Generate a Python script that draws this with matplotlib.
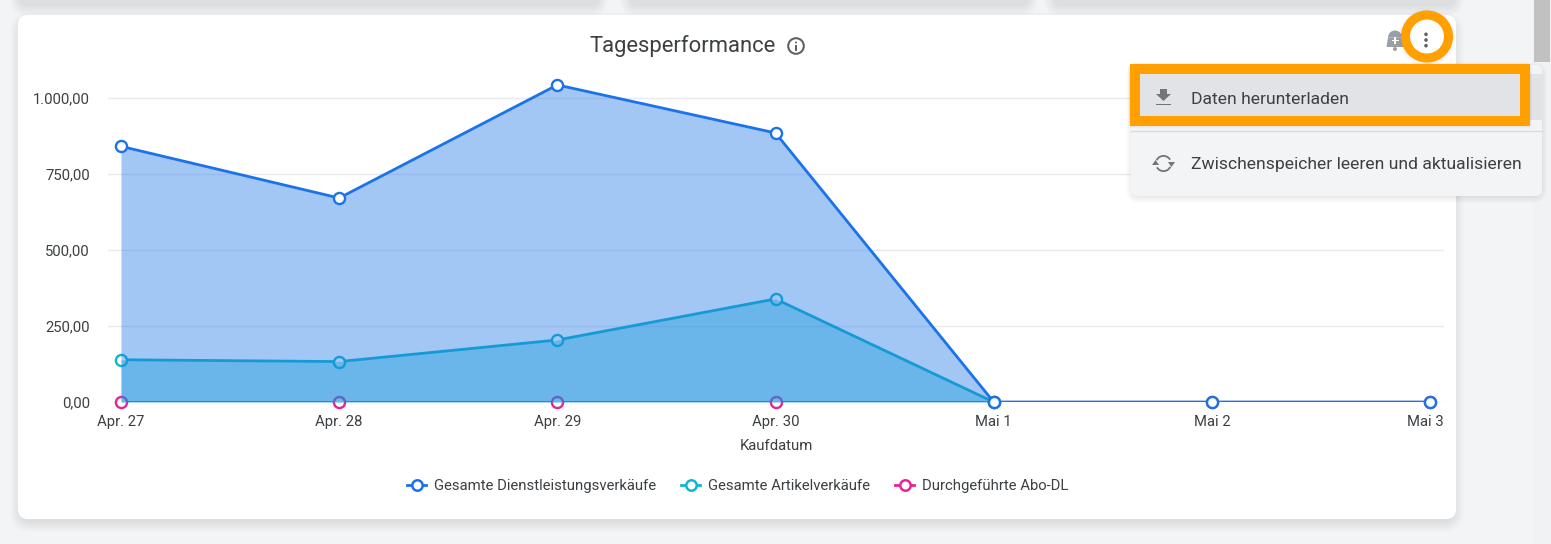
#!/usr/bin/env python3
import numpy as np
import matplotlib
matplotlib.use("Agg")
import matplotlib.pyplot as plt
from matplotlib.lines import Line2D
from matplotlib.patches import Circle, FancyBboxPatch, Polygon, Rectangle, Wedge
from matplotlib.ticker import FuncFormatter
from matplotlib.transforms import ScaledTranslation

W, H = 1551, 544
plt.rcParams["font.family"] = ["Roboto", "DejaVu Sans"]

# Chart data
dates = ["Apr. 27", "Apr. 28", "Apr. 29", "Apr. 30", "Mai 1", "Mai 2", "Mai 3"]
services = [841, 671, 1043, 885, 0, 0, 0]
articles = [139, 133, 204, 339, 0, 0, 0]
abo = [0, 0, 0, 0, 0, 0, 0]
y_ticks = [0, 250, 500, 750, 1000]

BLUE = "#1a73e8"
TEAL = "#12b5cb"
PINK = "#e52592"
ORANGE = "#ffa000"
TEXT = "#3c4043"
GREY = "#70757a"


def de_number(v, pos=None):
    return f"{v:,.2f}".replace(",", "X").replace(".", ",").replace("X", ".")


def rounded(ax, x0, y0, x1, y1, r, **kw):
    box = FancyBboxPatch((x0 + r, y0 + r), x1 - x0 - 2 * r, y1 - y0 - 2 * r,
                         boxstyle=f"round,pad={r},rounding_size={r}", **kw)
    ax.add_patch(box)
    return box


def shadow(ax, x0, y0, x1, y1, r, size, zorder, alpha=0.006, shift=5):
    # stack of faint boxes, shifted down a bit
    for i in range(size, -3, -1):
        rounded(ax, x0 - i, y0 - i + shift, x1 + i, y1 + i + shift, r + 3 + i,
                fc="black", ec="none", alpha=alpha, zorder=zorder)


def series(ax, xs, ys, color, lw, zorder):
    # line stays clipped at the axes, markers hang over the edge
    ax.plot(xs, ys, color=color, lw=lw, zorder=zorder)
    ax.plot(xs, ys, ls="none", marker="o", ms=8, mew=1.7, mec=color, mfc="white",
            clip_on=False, zorder=zorder)


fig = plt.figure(figsize=(W / 100, H / 100), dpi=100, facecolor="#f3f4f6")

# Page background in pixel coordinates
bg = fig.add_axes([0, 0, 1, 1], zorder=0)
bg.set_xlim(0, W)
bg.set_ylim(H, 0)
bg.axis("off")

# Cards above the chart, cut off by the screenshot
for x0, x1 in [(18, 600), (628, 1030), (1052, 1456)]:
    shadow(bg, x0, -20, x1, 3, 6, 8, 1)

shadow(bg, 18, 15, 1456, 519, 10, 8, 1)
rounded(bg, 18, 15, 1456, 519, 10, fc="white", ec="none", zorder=2)

# Scrollbar
bg.add_patch(Rectangle((1533, 0), 18, H, fc="#f1f2f4", ec="none", zorder=2))
bg.add_patch(Rectangle((1534, 0), 16, 62, fc="#c1c1c1", ec="none", zorder=3))

bg.text(590, 46, "Tagesperformance", fontsize=15.8, color=TEXT, va="center", ha="left", zorder=3)

# Info icon
bg.add_patch(Circle((796, 46), 7.8, fc="none", ec="#5f6368", lw=1.5, zorder=3))
bg.add_patch(Circle((796, 42.5), 1.0, fc="#5f6368", ec="none", zorder=3))
bg.add_patch(Rectangle((795.1, 45), 1.8, 5.5, fc="#5f6368", ec="none", zorder=3))

# Chart axes, placed so that gridlines span x 108..1444 and y=0 sits at 402
ax_left, ax_right, ax_bottom, ax_top = 108, 1444, 402, 68
ax = fig.add_axes([ax_left / W, 1 - ax_bottom / H, (ax_right - ax_left) / W, (ax_bottom - ax_top) / H],
                  zorder=1)
ax.patch.set_alpha(0)
x = np.arange(len(dates))
step = 218.17
ax.set_xlim((ax_left - 121) / step, (ax_right - 121) / step)
ax.set_ylim(0, (ax_bottom - ax_top) / 0.304)

series(ax, x, abo, PINK, 2, 3)
series(ax, x[:5], articles[:5], TEAL, 2, 3)
ax.fill_between(x[:5], 0, articles[:5], color=TEAL, alpha=0.4, lw=0, zorder=4)
ax.fill_between(x[:5], 0, services[:5], color=BLUE, alpha=0.4, lw=0, zorder=4)
series(ax, x, services, BLUE, 2, 5)

ax.set_xticks(x, dates)
ax.set_yticks(y_ticks)
ax.yaxis.set_major_formatter(FuncFormatter(de_number))
ax.tick_params(axis="both", length=0, labelsize=10.7, labelcolor=TEXT)
ax.tick_params(axis="x", pad=9.2)
ax.tick_params(axis="y", pad=13)
ax.grid(axis="y", color="#e8eaed", lw=1)
ax.set_axisbelow(True)
for s in ax.spines.values():
    s.set_visible(False)
ax.set_xlabel("Kaufdatum", fontsize=10.7, color=TEXT, labelpad=7.2)

# Last label is pushed inside the chart area
last = ax.get_xticklabels()[-1]
last.set_transform(last.get_transform() + ScaledTranslation(-3 / 72, 0, fig.dpi_scale_trans))

handles = [Line2D([], [], color=c, lw=2, marker="o", ms=7.5, mew=1.8, mfc="white") for c in (BLUE, TEAL, PINK)]
ax.legend(handles, ["Gesamte Dienstleistungsverkäufe", "Gesamte Artikelverkäufe", "Durchgeführte Abo-DL"],
          ncol=3, loc="center", bbox_to_anchor=(737.5 / W, 1 - 486 / H), bbox_transform=fig.transFigure,
          frameon=False, fontsize=10.7, labelcolor=TEXT, handlelength=1.32, handletextpad=0.5,
          columnspacing=1.67, borderpad=0)

# Overflow menu and highlights on top of everything
top = fig.add_axes([0, 0, 1, 1], zorder=3)
top.set_xlim(0, W)
top.set_ylim(H, 0)
top.axis("off")
top.patch.set_alpha(0)

shadow(top, 1131, 65, 1542, 196, 6, 5, 1, alpha=0.012, shift=2)
rounded(top, 1131, 65, 1542, 196, 6, fc="#f3f4f6", ec="none", zorder=2)
top.add_patch(Rectangle((1140, 74), 402, 46, fc="#e2e3e7", ec="none", zorder=3))
top.add_line(Line2D([1131, 1542], [131, 131], color="#dadce0", lw=1, zorder=3))

# Orange frame around the menu entry, with a small drop shadow
shadow(top, 1130, 64, 1530, 125, 0, 2, 3, alpha=0.03, shift=1)
top.add_patch(Rectangle((1140, 74), 380, 42, fc="#e2e3e7", ec="none", zorder=3))
top.add_patch(Rectangle((1135, 69), 390, 52, fc="none", ec=ORANGE, lw=7.2, joinstyle="miter", zorder=4))

top.text(1191, 99, "Daten herunterladen", fontsize=12.6, color=TEXT, va="center", ha="left", zorder=5)
top.text(1191, 164.5, "Zwischenspeicher leeren und aktualisieren", fontsize=12.6, color=TEXT,
         va="center", ha="left", zorder=5)

# Download icon
top.add_patch(Polygon([(1160, 89), (1167, 89), (1167, 94), (1171, 94), (1163.5, 101), (1156, 94), (1160, 94)],
                      fc=GREY, ec="none", zorder=5))
top.add_patch(Rectangle((1156, 103.5), 15, 1.6, fc=GREY, ec="none", zorder=5))

# Refresh icon
top.add_patch(Wedge((1163.5, 163.5), 8.5, 205, 330, width=1.8, fc=GREY, ec="none", zorder=5))
top.add_patch(Wedge((1163.5, 163.5), 8.5, 25, 150, width=1.8, fc=GREY, ec="none", zorder=5))
top.add_patch(Polygon([(1168, 162), (1175, 162), (1171.5, 167)], fc=GREY, ec="none", zorder=5))
top.add_patch(Polygon([(1152, 165), (1159, 165), (1155.5, 160)], fc=GREY, ec="none", zorder=5))

# Bell icon (y axis is flipped here, so the dome is 180..360)
top.add_patch(Wedge((1395, 37.5), 7, 180, 360, fc="#9aa0a6", ec="none", zorder=2))
top.add_patch(Polygon([(1388, 37.5), (1402, 37.5), (1403.5, 47), (1386.5, 47)], fc="#9aa0a6", ec="none", zorder=2))
top.add_patch(Circle((1395, 49), 2, fc="#9aa0a6", ec="none", zorder=2))
top.add_patch(Rectangle((1391.5, 39.7), 7, 1.6, fc="white", ec="none", zorder=2))
top.add_patch(Rectangle((1394.2, 37), 1.6, 7, fc="white", ec="none", zorder=2))

# Orange ring around the three dots
for i in range(4, 0, -1):
    top.add_patch(Circle((1427, 37.5), 25.5 + i, fc="black", ec="none", alpha=0.012, zorder=3))
top.add_patch(Circle((1427, 36.5), 21.5, fc="white", ec=ORANGE, lw=6.5, zorder=4))
for dot_y in (34.3, 40, 45.7):
    top.add_patch(Circle((1426, dot_y), 1.8, fc="#5f6368", ec="none", zorder=5))

fig.savefig("out.png", dpi=100, facecolor=fig.get_facecolor())
